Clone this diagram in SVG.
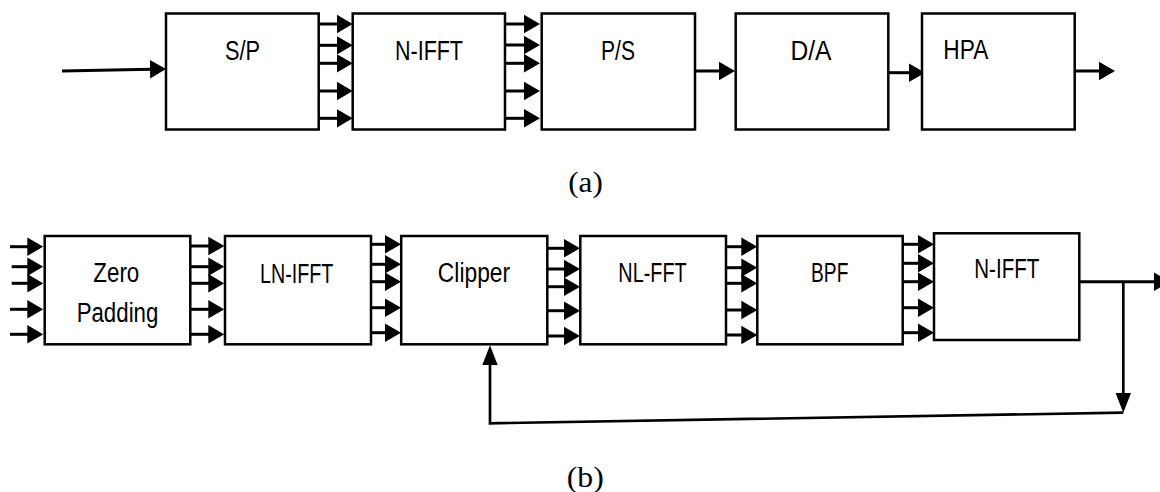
<svg xmlns="http://www.w3.org/2000/svg" width="1160" height="492" viewBox="0 0 1160 492">
<style>
.box{fill:#fff;stroke:#000;stroke-width:2.5}
.lbl{font-family:"Liberation Sans",Arial,sans-serif;fill:#000;text-anchor:middle}
.t28{font-size:28px}
.t27{font-size:27px}
.cap{font-family:"Liberation Serif","Times New Roman",serif;font-size:29px;fill:#000;text-anchor:middle}
.ar{fill:none;stroke:#000;stroke-width:3;marker-end:url(#ah)}
.arv{fill:none;stroke:#000;stroke-width:2.7;marker-end:url(#av)}
</style>
<defs>
<marker id="ah" markerUnits="userSpaceOnUse" viewBox="0 -10 16 20" refX="1" refY="0" markerWidth="16" markerHeight="20" orient="auto">
<path d="M0,-9.3 L16,0 L0,9.3 z" fill="#000"/>
</marker>
<marker id="av" markerUnits="userSpaceOnUse" viewBox="0 -9 20 18" refX="1" refY="0" markerWidth="20" markerHeight="18" orient="auto">
<path d="M0,-7.8 L20,0 L0,7.8 z" fill="#000"/>
</marker>
</defs>

<g id="connectors">
<line class="ar" x1="62" y1="71" x2="151" y2="69.3"/>
<line class="ar" x1="318.7" y1="24" x2="337.7" y2="24"/>
<line class="ar" x1="318.7" y1="45.3" x2="337.7" y2="45.3"/>
<line class="ar" x1="318.7" y1="63.3" x2="337.7" y2="63.3"/>
<line class="ar" x1="318.7" y1="91" x2="337.7" y2="91"/>
<line class="ar" x1="318.7" y1="118.3" x2="337.7" y2="118.3"/>
<line class="ar" x1="505" y1="24" x2="525" y2="24"/>
<line class="ar" x1="505" y1="45" x2="525" y2="45"/>
<line class="ar" x1="505" y1="63.3" x2="525" y2="63.3"/>
<line class="ar" x1="505" y1="91" x2="525" y2="91"/>
<line class="ar" x1="505" y1="118.3" x2="525" y2="118.3"/>
<line class="ar" x1="695" y1="71" x2="720" y2="71"/>
<line class="ar" x1="883.3" y1="72.7" x2="910" y2="72.7"/>
<line class="ar" x1="1074.7" y1="71" x2="1100" y2="71"/>
<line class="ar" x1="10" y1="246.7" x2="28.3" y2="246.7"/>
<line class="ar" x1="11.7" y1="266.7" x2="28.3" y2="266.7"/>
<line class="ar" x1="11.7" y1="283.3" x2="28.3" y2="283.3"/>
<line class="ar" x1="10" y1="309.3" x2="28.3" y2="309.3"/>
<line class="ar" x1="10" y1="334.3" x2="28.3" y2="334.3"/>
<line class="ar" x1="190.3" y1="246" x2="209.3" y2="246"/>
<line class="ar" x1="190.3" y1="266.7" x2="209.3" y2="266.7"/>
<line class="ar" x1="190.3" y1="283.3" x2="209.3" y2="283.3"/>
<line class="ar" x1="190.3" y1="309.3" x2="209.3" y2="309.3"/>
<line class="ar" x1="190.3" y1="334.3" x2="209.3" y2="334.3"/>
<line class="ar" x1="368.3" y1="244.3" x2="386" y2="244.3"/>
<line class="ar" x1="368.3" y1="264.3" x2="386" y2="264.3"/>
<line class="ar" x1="368.3" y1="281.7" x2="386" y2="281.7"/>
<line class="ar" x1="368.3" y1="307.7" x2="386" y2="307.7"/>
<line class="ar" x1="368.3" y1="332.7" x2="386" y2="332.7"/>
<line class="ar" x1="547.3" y1="248.3" x2="565" y2="248.3"/>
<line class="ar" x1="547.3" y1="269" x2="565" y2="269"/>
<line class="ar" x1="547.3" y1="286.7" x2="565" y2="286.7"/>
<line class="ar" x1="547.3" y1="310.7" x2="565" y2="310.7"/>
<line class="ar" x1="547.3" y1="336" x2="565" y2="336"/>
<line class="ar" x1="725" y1="246.7" x2="742.3" y2="246.7"/>
<line class="ar" x1="725" y1="267.7" x2="742.3" y2="267.7"/>
<line class="ar" x1="725" y1="283.3" x2="742.3" y2="283.3"/>
<line class="ar" x1="725" y1="310" x2="742.3" y2="310"/>
<line class="ar" x1="725" y1="335" x2="742.3" y2="335"/>
<line class="ar" x1="901.7" y1="244.3" x2="919" y2="244.3"/>
<line class="ar" x1="901.7" y1="263.3" x2="919" y2="263.3"/>
<line class="ar" x1="901.7" y1="281.7" x2="919" y2="281.7"/>
<line class="ar" x1="901.7" y1="307.7" x2="919" y2="307.7"/>
<line class="ar" x1="901.7" y1="332.7" x2="919" y2="332.7"/>
<line class="ar" x1="1079.3" y1="281.7" x2="1155" y2="281.7"/>
<line class="arv" x1="1123.3" y1="281.7" x2="1123.3" y2="393.7"/>
<polyline class="arv" points="1123.3,412.7 490,423.3 490,364.3"/>
</g>

<g id="node-sp"><rect class="box" x="166" y="13.5" width="152.7" height="116"/><text class="lbl t28" x="242.5" y="60" textLength="35" lengthAdjust="spacingAndGlyphs">S/P</text></g>
<g id="node-nifft-a"><rect class="box" x="352.7" y="13.5" width="152.3" height="116"/><text class="lbl t28" x="429" y="60" textLength="68" lengthAdjust="spacingAndGlyphs">N-IFFT</text></g>
<g id="node-ps"><rect class="box" x="541.7" y="13.5" width="153.3" height="116"/><text class="lbl t28" x="618" y="60" textLength="34" lengthAdjust="spacingAndGlyphs">P/S</text></g>
<g id="node-da"><rect class="box" x="735.7" y="13.5" width="152.6" height="116"/><text class="lbl t28" x="811" y="60" textLength="41" lengthAdjust="spacingAndGlyphs">D/A</text></g>
<g id="node-hpa"><rect class="box" x="922" y="13.5" width="152.7" height="116"/><text class="lbl t28" x="965.8" y="59.3" textLength="45" lengthAdjust="spacingAndGlyphs">HPA</text></g>

<text class="cap" x="585.5" y="191.5" textLength="34.5" lengthAdjust="spacingAndGlyphs">(a)</text>

<g id="node-zeropad"><rect class="box" x="44.7" y="236" width="145.6" height="108.3"/><text class="lbl t27" x="116.3" y="282.3" textLength="46" lengthAdjust="spacingAndGlyphs">Zero</text><text class="lbl t27" x="117.5" y="321.7" textLength="81.7" lengthAdjust="spacingAndGlyphs">Padding</text></g>
<g id="node-lnifft"><rect class="box" x="225" y="236" width="146" height="108.3"/><text class="lbl t27" x="296.7" y="282.7" textLength="73.3" lengthAdjust="spacingAndGlyphs">LN-IFFT</text></g>
<g id="node-clipper"><rect class="box" x="401.2" y="236" width="146.1" height="108.3"/><text class="lbl t27" x="474" y="281.7" textLength="72.3" lengthAdjust="spacingAndGlyphs">Clipper</text></g>
<g id="node-nlfft"><rect class="box" x="580.3" y="236" width="145.7" height="108.3"/><text class="lbl t27" x="652.5" y="281.7" textLength="68.3" lengthAdjust="spacingAndGlyphs">NL-FFT</text></g>
<g id="node-bpf"><rect class="box" x="757.3" y="236" width="145.4" height="108.3"/><text class="lbl t27" x="829.7" y="281.7" textLength="37.3" lengthAdjust="spacingAndGlyphs">BPF</text></g>
<g id="node-nifft-b"><rect class="box" x="934" y="233.3" width="145.3" height="106.7"/><text class="lbl t27" x="1006.8" y="278.3" textLength="65" lengthAdjust="spacingAndGlyphs">N-IFFT</text></g>

<text class="cap" x="585.3" y="487" textLength="37" lengthAdjust="spacingAndGlyphs">(b)</text>
</svg>
